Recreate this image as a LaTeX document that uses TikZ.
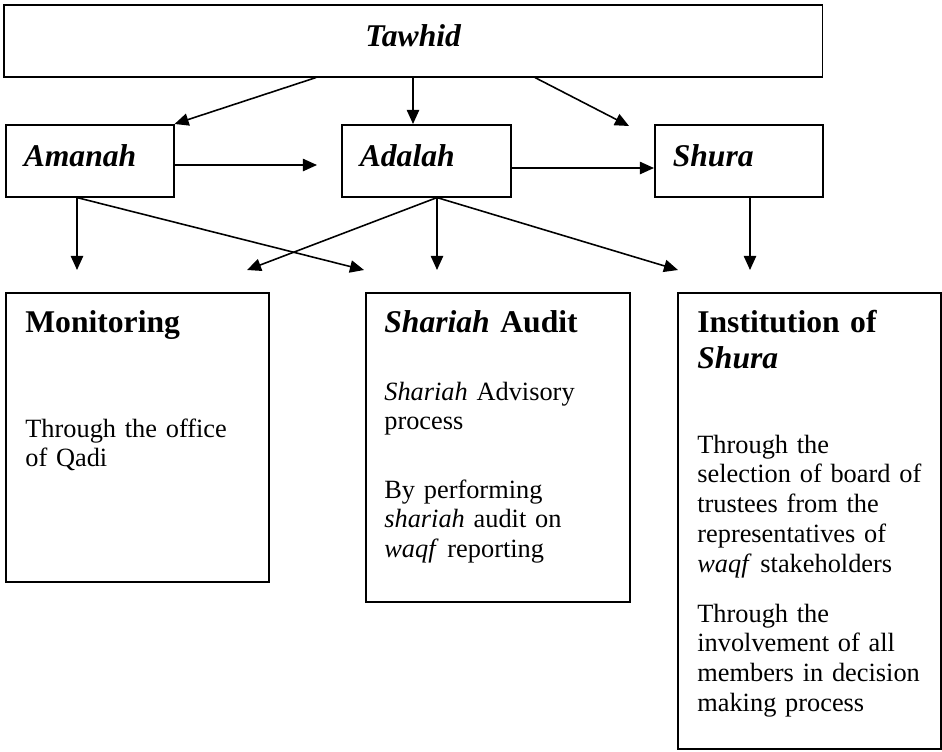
\documentclass[tikz,border=0pt]{standalone}
\usepackage{fontspec}
\setmainfont{Liberation Serif}
\usetikzlibrary{arrows.meta}

\tikzset{
  box/.style={draw, line width=0.9pt, inner sep=0pt},
  topbox/.style={box, minimum height=1.44cm, text height=13pt, text depth=7pt,
    inner xsep=0.36cm, align=left, font=\bfseries\itshape\fontsize{18}{20.5}\selectfont},
  link/.style={line width=0.9pt, -{Triangle[length=8pt,width=7pt]}},
  head/.style={anchor=base west, inner sep=0pt, text width=4.6cm, align=left,
    font=\bfseries\fontsize{18}{20.5}\selectfont},
  body/.style={anchor=base west, inner sep=0pt, text width=4.6cm, align=left,
    font=\fontsize{15}{17}\selectfont},
}

\begin{document}
\begin{tikzpicture}[x=0.02cm, y=-0.02cm]
  \useasboundingbox (0,0) rectangle (942,751);

  % principles
  \node[topbox, text width=15.66cm, align=center, anchor=north west] (taw) at (3,4) {Tawhid};
  \node[topbox, text width=2.64cm, anchor=north west] (amh) at (5,124) {Amanah};
  \node[topbox, text width=2.66cm, anchor=north west] (adl) at (341,124) {Adalah};
  \node[topbox, text width=2.64cm, anchor=north west] (shr) at (654,124) {Shura};

  % mechanisms
  \node[box, minimum width=5.26cm, minimum height=5.78cm, anchor=north west] (mon) at (5,292) {};
  \node[box, minimum width=5.28cm, minimum height=6.18cm, anchor=north west] (aud) at (365,292) {};
  \node[box, minimum width=5.26cm, minimum height=9.12cm, anchor=north west] (ins) at (677,292) {};

  \node[head] (mon-h) at (25,332) {Monitoring};
  \node[body] (mon-b) at (25,437) {Through the office\\of Qadi};

  \node[head] (aud-h) at (384,332) {\textit{Shariah} Audit};
  \node[body] (aud-b1) at (384,400) {\textit{Shariah} Advisory\\process};
  \node[body] (aud-b2) at (384,498) {By performing\\\textit{shariah} audit on\\\textit{waqf} reporting};

  \node[head] (ins-h) at (697,332) {Institution of\\\textit{Shura}};
  \node[body] (ins-b1) at (697,453) {Through the\\selection of board of\\trustees from the\\representatives of\\\textit{waqf} stakeholders};
  \node[body] (ins-b2) at (697,622) {Through the\\involvement of all\\members in decision\\making process};

  % free arrow ends
  \coordinate (t-s) at (629,126);
  \coordinate (a-r) at (317,165);
  \coordinate (amh-b) at (77,0 |- amh.south);
  \coordinate (adl-b) at (437,0 |- adl.south);
  \coordinate (shr-b) at (750,0 |- shr.south);
  \coordinate (e1) at (77,270);
  \coordinate (e2) at (364,270);
  \coordinate (e3) at (247,270);
  \coordinate (e4) at (437,270);
  \coordinate (e5) at (678,270);
  \coordinate (e6) at (750,270);

  \draw[link] (316,0 |- taw.south) -- (amh.north east);
  \draw[link] (413,0 |- taw.south) -- (413,0 |- adl.north);
  \draw[link] (535,0 |- taw.south) -- (t-s);
  \draw[link] (amh.east |- a-r) -- (a-r);
  \draw[link] (adl.east |- 0,168) -- (shr.west |- 0,168);
  \draw[link] (amh-b) -- (e1);
  \draw[link] (amh-b) -- (e2);
  \draw[link] (adl-b) -- (e3);
  \draw[link] (adl-b) -- (e4);
  \draw[link] (adl-b) -- (e5);
  \draw[link] (shr-b) -- (e6);
\end{tikzpicture}
\end{document}
